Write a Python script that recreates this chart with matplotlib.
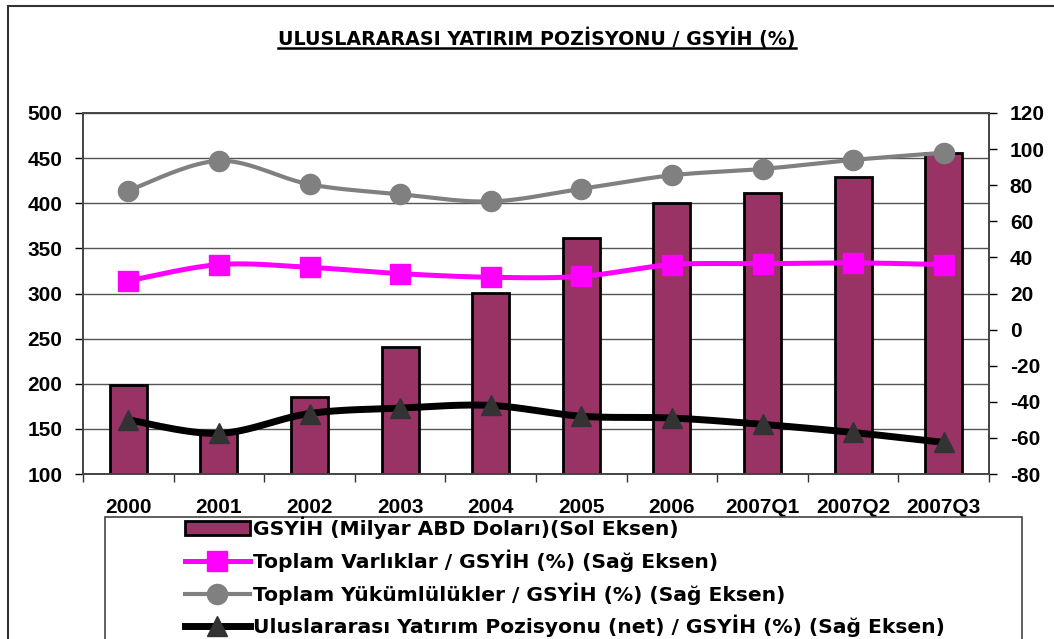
import matplotlib
matplotlib.use('Agg')
import matplotlib.pyplot as plt
import numpy as np
from matplotlib.patches import Rectangle
from matplotlib.lines import Line2D

plt.rcParams['font.family'] = ['Liberation Sans', 'DejaVu Sans']
plt.rcParams['font.weight'] = 'bold'
plt.rcParams['axes.unicode_minus'] = False

# veriler
donemler = ['2000', '2001', '2002', '2003', '2004', '2005', '2006', '2007Q1', '2007Q2', '2007Q3']
gsyih = [199, 146, 185, 241, 301, 362, 400, 411, 429, 456]
varliklar = [27, 36, 34.5, 31, 29, 29.5, 36, 36.5, 37, 36]
yukumlulukler = [77, 93.5, 80.5, 75, 71, 78, 85.5, 89, 94, 98]
net_pozisyon = [-50, -57.5, -46.5, -43.5, -42, -48, -49, -52.5, -57, -62.5]

def smooth(x, y, n=24):
    '''Excel benzeri yumusatilmis cizgi (Catmull-Rom)'''
    p = np.column_stack([x, y]).astype(float)
    p = np.vstack([p[0], p, p[-1]])
    xs, ys = [], []
    for i in range(1, len(p) - 2):
        p0, p1, p2, p3 = p[i - 1], p[i], p[i + 1], p[i + 2]
        t = np.linspace(0, 1, n)[:, None]
        c = 0.5 * ((2 * p1) + (-p0 + p2) * t + (2 * p0 - 5 * p1 + 4 * p2 - p3) * t ** 2
                   + (-p0 + 3 * p1 - 3 * p2 + p3) * t ** 3)
        xs.extend(c[:, 0]); ys.extend(c[:, 1])
    return np.array(xs), np.array(ys)

W, H = 1054, 639
fig = plt.figure(figsize=(W / 100, H / 100), dpi=100)
ax = fig.add_axes([83 / W, 1 - 474 / H, (989 - 83) / W, (474 - 113) / H])
ax2 = ax.twinx()

x = np.arange(len(donemler))
ax.bar(x, gsyih, width=0.41, color='#993366', edgecolor='black', linewidth=2,
       zorder=2)
ax.set_ylim(100, 500)
ax.set_yticks(np.arange(100, 501, 50))
ax.set_xlim(-0.5, len(donemler) - 0.5)
ax.set_axisbelow(True)
ax.yaxis.grid(True, color='#555555', linewidth=1)

sx, sy = smooth(x, varliklar)
ax2.plot(sx, sy, color='#FF00FF', linewidth=3.6)
ax2.plot(x, varliklar, 's', color='#FF00FF', markersize=14)
sx, sy = smooth(x, yukumlulukler)
ax2.plot(sx, sy, color='#808080', linewidth=3)
ax2.plot(x, yukumlulukler, 'o', color='#808080', markersize=14.5)
sx, sy = smooth(x, net_pozisyon)
ax2.plot(sx, sy, color='black', linewidth=5)
ax2.plot(x, net_pozisyon, '^', color='#333333', markersize=15)
ax2.set_ylim(-80, 120)
ax2.set_yticks(np.arange(-80, 121, 20))

ax.set_xticks(x)
ax.set_xticklabels(donemler, fontsize=15, fontweight='bold')
ax.set_xticks(np.arange(-0.5, len(donemler), 1), minor=True)
ax.tick_params(axis='x', which='major', length=0, pad=17)
ax.tick_params(axis='x', which='minor', length=6, width=1, color='#333333')
ax.tick_params(axis='y', length=6, width=1, pad=9, labelsize=15)
ax2.tick_params(axis='y', length=6, width=1, pad=9, labelsize=15)
for a in (ax, ax2):
    for s in a.spines.values():
        s.set_color('#444444')
        s.set_linewidth(1.2)
    for lbl in a.get_yticklabels():
        lbl.set_fontweight('bold')

# baslik
title = fig.text(537 / W, 1 - 38 / H, 'ULUSLARARASI YATIRIM POZİSYONU / GSYİH (%)',
                 ha='center', va='center', fontsize=13.7, fontweight='bold',
                 family='DejaVu Sans')
fig.canvas.draw()
bb = title.get_window_extent()
fig.add_artist(Line2D([bb.x0 / W, bb.x1 / W], [(H - 48) / H, (H - 48) / H],
                      color='black', linewidth=1.8))

# dis cerceve ve lejant cercevesi
fig.add_artist(Rectangle((8 / W, -0.1), (1062 - 8) / W, 1.1 - 6 / H, fill=False,
                         edgecolor='#333333', linewidth=1.5, clip_on=False))
fig.add_artist(Rectangle((105 / W, -0.1), (1022 - 105) / W, 0.1 + 1 - 517 / H, fill=False,
                         edgecolor='#444444', linewidth=1.2, clip_on=False))

handles = [
    Rectangle((0, 0), 1, 1, facecolor='#993366', edgecolor='black', linewidth=2),
    Line2D([], [], color='#FF00FF', linewidth=3.6, marker='s', markersize=14),
    Line2D([], [], color='#808080', linewidth=3, marker='o', markersize=14.5),
    Line2D([], [], color='black', linewidth=5, marker='^', markersize=15,
           markerfacecolor='#333333', markeredgecolor='#333333'),
]
labels = ['GSYİH (Milyar ABD Doları)(Sol Eksen)',
          'Toplam Varlıklar / GSYİH (%) (Sağ Eksen)',
          'Toplam Yükümlülükler / GSYİH (%) (Sağ Eksen)',
          'Uluslararası Yatırım Pozisyonu (net) / GSYİH (%) (Sağ Eksen)']
fig.legend(handles, labels, loc='upper left', bbox_to_anchor=(185 / W, 1 - 517 / H),
           frameon=False, borderpad=0, borderaxespad=0,
           handlelength=3.2, handletextpad=0.15, labelspacing=0.5,
           prop={'weight': 'bold', 'size': 14.6, 'family': 'DejaVu Sans'})

fig.savefig('out.png', dpi=100)
